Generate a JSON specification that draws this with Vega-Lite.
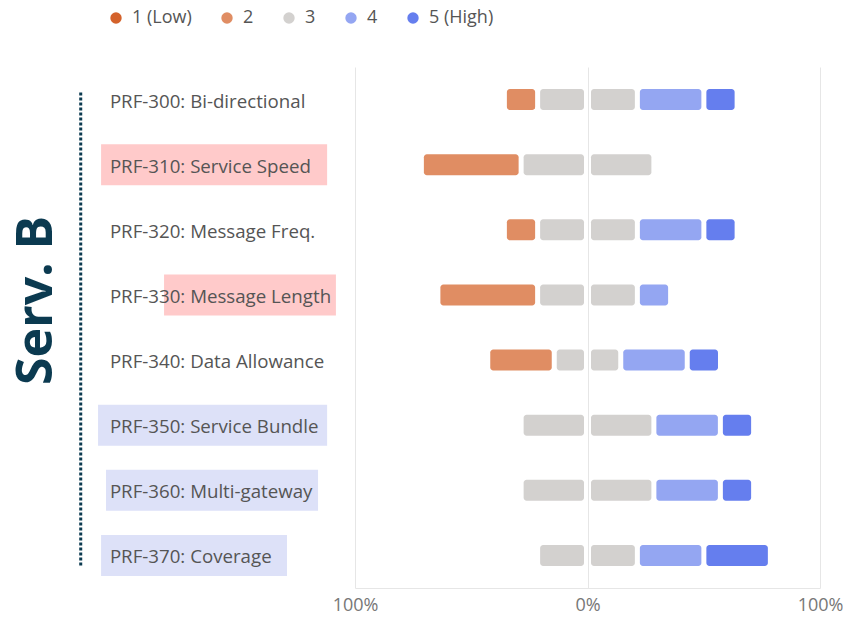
{
  "$schema": "https://vega.github.io/schema/vega-lite/v6.json",
  "padding": {"left": 11, "top": 9, "right": 0, "bottom": 0},
  "bounds": "flush",
  "config": {
    "view": {"stroke": null},
    "font": "Open Sans",
    "concat": {"spacing": 10}
  },
  "datasets": {
    "ratings": [
      {"q": "PRF-300: Bi-directional", "rating": 2, "pct": 14.3},
      {"q": "PRF-300: Bi-directional", "rating": 3, "pct": 42.9},
      {"q": "PRF-300: Bi-directional", "rating": 4, "pct": 28.6},
      {"q": "PRF-300: Bi-directional", "rating": 5, "pct": 14.3},
      {"q": "PRF-310: Service Speed", "rating": 2, "pct": 42.9},
      {"q": "PRF-310: Service Speed", "rating": 3, "pct": 57.1},
      {"q": "PRF-320: Message Freq.", "rating": 2, "pct": 14.3},
      {"q": "PRF-320: Message Freq.", "rating": 3, "pct": 42.9},
      {"q": "PRF-320: Message Freq.", "rating": 4, "pct": 28.6},
      {"q": "PRF-320: Message Freq.", "rating": 5, "pct": 14.3},
      {"q": "PRF-330: Message Length", "rating": 2, "pct": 42.9},
      {"q": "PRF-330: Message Length", "rating": 3, "pct": 42.9},
      {"q": "PRF-330: Message Length", "rating": 4, "pct": 14.3},
      {"q": "PRF-340: Data Allowance", "rating": 2, "pct": 28.6},
      {"q": "PRF-340: Data Allowance", "rating": 3, "pct": 28.6},
      {"q": "PRF-340: Data Allowance", "rating": 4, "pct": 28.6},
      {"q": "PRF-340: Data Allowance", "rating": 5, "pct": 14.3},
      {"q": "PRF-350: Service Bundle", "rating": 3, "pct": 57.1},
      {"q": "PRF-350: Service Bundle", "rating": 4, "pct": 28.6},
      {"q": "PRF-350: Service Bundle", "rating": 5, "pct": 14.3},
      {"q": "PRF-360: Multi-gateway", "rating": 3, "pct": 57.1},
      {"q": "PRF-360: Multi-gateway", "rating": 4, "pct": 28.6},
      {"q": "PRF-360: Multi-gateway", "rating": 5, "pct": 14.3},
      {"q": "PRF-370: Coverage", "rating": 3, "pct": 42.9},
      {"q": "PRF-370: Coverage", "rating": 4, "pct": 28.6},
      {"q": "PRF-370: Coverage", "rating": 5, "pct": 28.6}
    ],
    "highlights": [
      {"q": "PRF-310: Service Speed", "tone": "flag", "from": 11.3, "to": 93.5},
      {"q": "PRF-330: Message Length", "tone": "flag", "from": 34.2, "to": 96.7},
      {"q": "PRF-350: Service Bundle", "tone": "note", "from": 10.2, "to": 93.5},
      {"q": "PRF-360: Multi-gateway", "tone": "note", "from": 13.1, "to": 90.2},
      {"q": "PRF-370: Coverage", "tone": "note", "from": 11.3, "to": 78.9}
    ]
  },
  "hconcat": [
    {
      "width": 275,
      "height": 521,
      "layer": [
        {
          "data": {"name": "highlights"},
          "transform": [{"filter": "datum.tone == 'flag'"}],
          "mark": {"type": "bar", "height": 41, "color": "#FFCACA"},
          "encoding": {
            "y": {
              "field": "q", "type": "nominal",
              "sort": ["PRF-300: Bi-directional", "PRF-310: Service Speed", "PRF-320: Message Freq.", "PRF-330: Message Length", "PRF-340: Data Allowance", "PRF-350: Service Bundle", "PRF-360: Multi-gateway", "PRF-370: Coverage"],
              "axis": {
                "labels": false, "ticks": false, "domain": false,
                "title": "Serv. B",
                "titleFontSize": 50, "titleFontWeight": "bold", "titleFont": "Open Sans",
                "titleColor": "#0B3A50", "titlePadding": 9, "titleY": 233
              }
            },
            "x": {"field": "from", "type": "quantitative", "scale": {"domain": [0, 100]}, "axis": null},
            "x2": {"field": "to"}
          }
        },
        {
          "data": {"name": "highlights"},
          "transform": [{"filter": "datum.tone == 'note'"}],
          "mark": {"type": "bar", "height": 41, "color": "#DDE1F8"},
          "encoding": {
            "y": {"field": "q", "type": "nominal"},
            "x": {"field": "from", "type": "quantitative"},
            "x2": {"field": "to"}
          }
        },
        {
          "data": {"name": "ratings"},
          "transform": [{"aggregate": [{"op": "count", "as": "n"}], "groupby": ["q"]}],
          "mark": {"type": "text", "align": "left", "baseline": "middle", "fontSize": 18.7, "color": "#555555", "dy": 2},
          "encoding": {
            "x": {"datum": 14.5, "type": "quantitative"},
            "y": {"field": "q", "type": "nominal"},
            "text": {"field": "q", "type": "nominal"}
          }
        },
        {
          "data": {"name": "ratings"},
          "transform": [{"aggregate": [{"op": "count", "as": "n"}]}],
          "mark": {"type": "rule", "strokeDash": [3, 2], "strokeWidth": 3, "color": "#0B3A50", "yOffset": -7, "y2Offset": 11},
          "encoding": {
            "x": {"datum": 3.9, "type": "quantitative"},
            "y": {"datum": "PRF-300: Bi-directional", "type": "nominal"},
            "y2": {"datum": "PRF-370: Coverage"}
          }
        }
      ]
    },
    {
      "width": 465,
      "height": 521,
      "data": {"name": "ratings"},
      "transform": [
        {"calculate": "datum.rating <= 2 ? datum.pct : (datum.rating == 3 ? datum.pct / 2 : 0)", "as": "negpart"},
        {"stack": "pct", "groupby": ["q"], "sort": [{"field": "rating", "order": "ascending"}], "as": ["s0", "s1"]},
        {"joinaggregate": [{"op": "sum", "field": "negpart", "as": "off"}], "groupby": ["q"]},
        {"calculate": "datum.s0 - datum.off", "as": "lo"},
        {"calculate": "datum.s1 - datum.off", "as": "hi"}
      ],
      "encoding": {
        "y": {"field": "q", "type": "nominal", "axis": null},
        "color": {
          "field": "rating", "type": "ordinal",
          "scale": {"domain": [1, 2, 3, 4, 5], "range": ["#D4622B", "#E08D63", "#D3D1CF", "#94A6F2", "#657EEE"]},
          "legend": {
            "title": null, "orient": "none", "direction": "horizontal",
            "legendX": 37, "legendY": -58,
            "symbolType": "circle", "symbolSize": 130, "symbolStrokeWidth": 0,
            "labelFontSize": 18, "labelColor": "#555555", "labelOffset": 7,
            "columnPadding": 26,
            "labelExpr": "datum.value == 1 ? '1 (Low)' : (datum.value == 5 ? '5 (High)' : datum.label)"
          }
        }
      },
      "layer": [
        {
          "transform": [{"filter": "datum.rating != 3"}],
          "mark": {"type": "bar", "height": 21, "cornerRadius": 3, "xOffset": 2.5, "x2Offset": -2.5},
          "encoding": {
            "x": {
              "field": "lo", "type": "quantitative",
              "scale": {"domain": [-100, 100]},
              "axis": {
                "title": null, "values": [-100, 0, 100],
                "labelExpr": "abs(datum.value) + '%'",
                "labelFlush": false,
                "labelFontSize": 18, "labelColor": "#777777", "labelPadding": 8,
                "ticks": false, "domainColor": "#E6E6E6", "gridColor": "#E6E6E6", "grid": true
              }
            },
            "x2": {"field": "hi"}
          }
        },
        {
          "transform": [{"filter": "datum.rating == 3"}],
          "mark": {"type": "bar", "height": 21, "cornerRadius": 3, "xOffset": 2.5, "x2Offset": -3.5},
          "encoding": {
            "x": {"field": "lo", "type": "quantitative"},
            "x2": {"datum": 0}
          }
        },
        {
          "transform": [{"filter": "datum.rating == 3"}],
          "mark": {"type": "bar", "height": 21, "cornerRadius": 3, "xOffset": -2.5, "x2Offset": 3.5},
          "encoding": {
            "x": {"field": "hi", "type": "quantitative"},
            "x2": {"datum": 0}
          }
        }
      ]
    }
  ]
}
